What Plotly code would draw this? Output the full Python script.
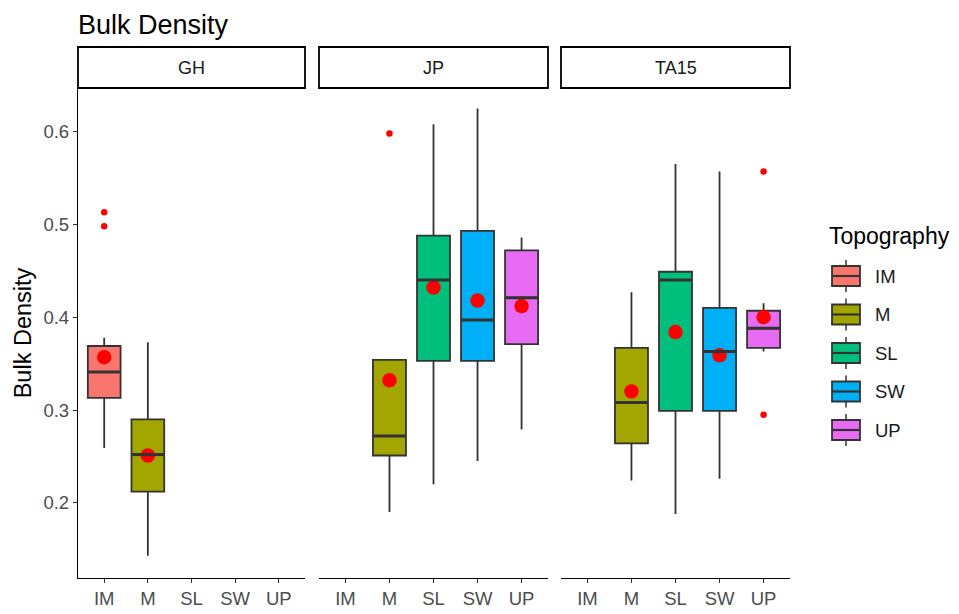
import plotly.graph_objects as go

# ---------------- data ----------------
facets = ["GH", "JP", "TA15"]
topographies = ["IM", "M", "SL", "SW", "UP"]
topo_colors = ["#F8766D", "#A3A500", "#00BF7D", "#00B0F6", "#E76BF3"]

box_facet = ["GH", "GH", "JP", "JP", "JP", "JP", "TA15", "TA15", "TA15", "TA15"]
box_topo = ["IM", "M", "M", "SL", "SW", "UP", "M", "SL", "SW", "UP"]
box_q1 = [0.313, 0.212, 0.251, 0.353, 0.353, 0.371, 0.264, 0.299, 0.299, 0.367]
box_median = [0.341, 0.252, 0.272, 0.440, 0.397, 0.421, 0.308, 0.440, 0.363, 0.388]
box_q3 = [0.369, 0.290, 0.354, 0.488, 0.493, 0.472, 0.367, 0.449, 0.410, 0.407]
box_low = [0.259, 0.143, 0.190, 0.220, 0.245, 0.279, 0.224, 0.188, 0.226, 0.363]
box_high = [0.378, 0.373, 0.354, 0.608, 0.625, 0.486, 0.427, 0.565, 0.557, 0.415]
box_mean = [0.357, 0.251, 0.332, 0.432, 0.418, 0.412, 0.320, 0.384, 0.359, 0.400]

out_facet = ["GH", "GH", "JP", "TA15", "TA15"]
out_topo = ["IM", "IM", "M", "UP", "UP"]
out_value = [0.513, 0.498, 0.598, 0.557, 0.295]

y_tick_vals = [0.2, 0.3, 0.4, 0.5, 0.6]
y_range = [0.119, 0.647]

# ---------------- geometry (page pixels; the page body adds an 8px offset) ----------------
OFF = 8
W, H = 959 - OFF, 614 - OFF
plot_left, plot_right = 78 - OFF, 790 - OFF
plot_top, plot_bottom = 47 - OFF, 578 - OFF
L, R, T, B = plot_left, W - plot_right, plot_top, H - plot_bottom
plot_w = plot_right - plot_left
plot_h = plot_bottom - plot_top
panel_px = [(78, 305), (319, 548), (561, 790)]
x_domains = [[(a - OFF - plot_left) / plot_w, (b - OFF - plot_left) / plot_w] for a, b in panel_px]
strip_bottom = (578 - 88) / plot_h
BOX_W = 0.75


def px(xp):
    return (xp - OFF - plot_left) / plot_w


def py(yp):
    return (plot_bottom - (yp - OFF)) / plot_h


axis_name = {f: ("" if i == 0 else str(i + 1)) for i, f in enumerate(facets)}
font_family = "Liberation Sans, Arial, sans-serif"
tick_size = 18.5
BOX_LINE = "#333333"

fig = go.Figure()

for i in range(len(box_topo)):
    t = box_topo[i]
    f = box_facet[i]
    c = topo_colors[topographies.index(t)]
    fig.add_trace(go.Box(
        x=[t], q1=[box_q1[i]], median=[box_median[i]], q3=[box_q3[i]],
        lowerfence=[box_low[i]], upperfence=[box_high[i]],
        name=t, showlegend=False,
        fillcolor=c, line=dict(color=BOX_LINE, width=1.8),
        width=BOX_W, whiskerwidth=0, boxpoints=False,
        xaxis="x" + axis_name[f], yaxis="y" + axis_name[f],
    ))

for f in facets:
    idx = [i for i in range(len(box_facet)) if box_facet[i] == f]
    fig.add_trace(go.Scatter(
        x=[box_topo[i] for i in idx], y=[box_mean[i] for i in idx],
        mode="markers", marker=dict(color="red", size=14.5),
        showlegend=False, hoverinfo="y",
        xaxis="x" + axis_name[f], yaxis="y" + axis_name[f],
    ))
    oidx = [i for i in range(len(out_facet)) if out_facet[i] == f]
    if oidx:
        fig.add_trace(go.Scatter(
            x=[out_topo[i] for i in oidx], y=[out_value[i] for i in oidx],
            mode="markers", marker=dict(color="red", size=6.5),
            showlegend=False, hoverinfo="y",
            xaxis="x" + axis_name[f], yaxis="y" + axis_name[f],
        ))

layout = dict(
    width=W, height=H,
    margin=dict(l=L, r=R, t=T, b=B, autoexpand=False),
    paper_bgcolor="white", plot_bgcolor="white",
    boxmode="overlay", showlegend=False,
    font=dict(family=font_family, color="#1a1a1a"),
)

for k, f in enumerate(facets):
    a = axis_name[f]
    layout["xaxis" + a] = dict(
        domain=x_domains[k], anchor="y" + a,
        type="category", categoryorder="array", categoryarray=topographies,
        tickmode="array", tickvals=topographies, ticktext=topographies,
        range=[-0.6, 4.6], showgrid=False, zeroline=False,
        showline=True, linecolor="black", linewidth=1.3,
        ticks="outside", ticklen=4, tickcolor="#333333", tickwidth=1.2,
        tickfont=dict(size=tick_size, color="#4d4d4d"), fixedrange=True,
    )
    ydict = dict(
        domain=[0, strip_bottom], anchor="x" + a, range=y_range,
        showgrid=False, zeroline=False, fixedrange=True,
    )
    if k == 0:
        ydict.update(
            showline=True, linecolor="black", linewidth=1.3,
            ticks="outside", ticklen=4, tickcolor="#333333", tickwidth=1.2,
            tickmode="array", tickvals=y_tick_vals,
            tickformat=".1f",
            tickfont=dict(size=tick_size, color="#4d4d4d"),
            title=dict(text="Bulk Density", font=dict(size=23.5, color="black"), standoff=5),
        )
    else:
        ydict.update(matches="y", showline=False, showticklabels=False, ticks="")
    layout["yaxis" + a] = ydict

shapes = []
annotations = []

# chart title (kept fully inside the figure)
annotations.append(dict(xref="paper", yref="paper", x=px(77), y=py(9), text="Bulk Density",
                        showarrow=False, xanchor="left", yanchor="top", borderpad=0,
                        font=dict(size=27, color="black")))

# thicker ggplot-style median bars, placed from the data
for i in range(len(box_topo)):
    a = axis_name[box_facet[i]]
    ci = topographies.index(box_topo[i])
    shapes.append(dict(type="line", xref="x" + a, yref="y" + a,
                       x0=ci - BOX_W / 2 + 0.02, x1=ci + BOX_W / 2 - 0.02,
                       y0=box_median[i], y1=box_median[i],
                       line=dict(color=BOX_LINE, width=3), layer="above"))

for k, f in enumerate(facets):
    x0, x1 = x_domains[k]
    shapes.append(dict(type="rect", xref="paper", yref="paper",
                       x0=x0, x1=x1, y0=strip_bottom, y1=1.0,
                       line=dict(color="black", width=1.8), fillcolor="white"))
    annotations.append(dict(xref="paper", yref="paper", x=(x0 + x1) / 2,
                            y=(strip_bottom + 1.0) / 2, text=f, showarrow=False,
                            xanchor="center", yanchor="middle",
                            font=dict(size=18, color="#1a1a1a")))

# ---- hand-drawn ggplot-style legend ----
annotations.append(dict(xref="paper", yref="paper", x=px(827), y=py(236), text="Topography",
                        showarrow=False, xanchor="left", yanchor="middle",
                        font=dict(size=23, color="black")))
leg_y0, leg_dy = 276, 38.5
key_x0, key_x1, key_half_h, whisk_half = 832, 860, 10, 16
for k, t in enumerate(topographies):
    cy = leg_y0 + k * leg_dy
    cx = (key_x0 + key_x1) / 2
    c = topo_colors[k]
    shapes.append(dict(type="line", xref="paper", yref="paper",
                       x0=px(cx), x1=px(cx), y0=py(cy - whisk_half), y1=py(cy + whisk_half),
                       line=dict(color=BOX_LINE, width=1.5)))
    shapes.append(dict(type="rect", xref="paper", yref="paper",
                       x0=px(key_x0), x1=px(key_x1), y0=py(cy - key_half_h), y1=py(cy + key_half_h),
                       line=dict(color=BOX_LINE, width=1.8), fillcolor=c))
    shapes.append(dict(type="line", xref="paper", yref="paper",
                       x0=px(key_x0), x1=px(key_x1), y0=py(cy), y1=py(cy),
                       line=dict(color=BOX_LINE, width=2.2)))
    annotations.append(dict(xref="paper", yref="paper", x=px(873), y=py(cy), text=t,
                            showarrow=False, xanchor="left", yanchor="middle",
                            font=dict(size=18.5, color="#1a1a1a")))

layout["shapes"] = shapes
layout["annotations"] = annotations

fig.update_layout(**layout)
fig.write_html("out.html")
